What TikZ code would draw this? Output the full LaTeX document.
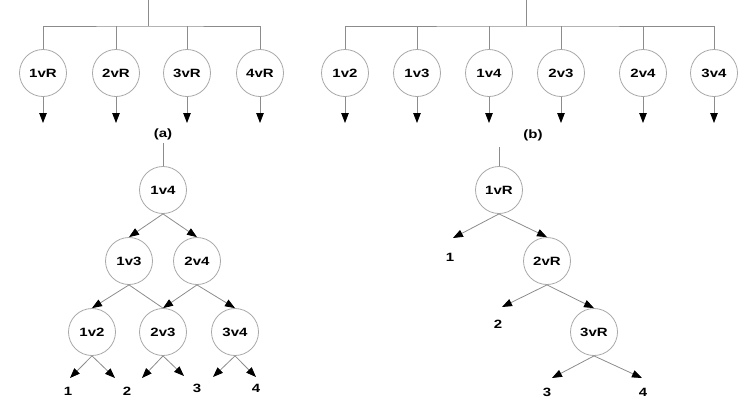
\documentclass[tikz,border=0pt]{standalone}
\usepackage{fontspec}
\setmainfont{Liberation Sans}
\usetikzlibrary{arrows.meta}
\newcommand\lbl[1]{\scalebox{1.25}[1]{#1}}
\definecolor{linec}{HTML}{8C8C8C}
\definecolor{circc}{HTML}{A8A8A8}
\tikzset{
  nd/.style={circle, draw=circc, line width=0.8pt, minimum size=47pt, inner sep=0pt, font=\bfseries\fontsize{12}{14}\selectfont},
  conn/.style={draw=linec, line width=0.8pt},
  arr/.style={conn, -{Triangle[length=10pt,width=7.5pt,color=black]}},
  leaf/.style={font=\bfseries\fontsize{12}{14}\selectfont, inner sep=0pt},
  captext/.style={font=\bfseries\fontsize{12}{14}\selectfont, inner sep=0pt}
}
\begin{document}
\begin{tikzpicture}[x=1pt,y=-1pt]
\useasboundingbox (0,0) rectangle (750,400);
% ---- panel (a) ----
\coordinate (ta) at (148,0);
\coordinate (ja) at (148,26);
\foreach \n/\x/\t in {1/43/1vR,2/116/2vR,3/187/3vR,4/260/4vR}{
  \node[nd] (a\n) at (\x,73) {\lbl{\t}};
  \coordinate (a\n e) at (\x,123);
  \draw[arr] (a\n.south) -- (a\n e);
}
\draw[conn] (ta) -- (ja);
\draw[conn] (a1.north) |- (ja) -| (a4.north);
\draw[conn] (a2.north) -- (a2.north |- ja);
\draw[conn] (a3.north) -- (a3.north |- ja);
\node[captext] (capa) at (163,134) {\lbl{(a)}};
% ---- panel (b) ----
\coordinate (tb) at (526,0);
\coordinate (jb) at (526,26);
\foreach \n/\x/\t in {1/345/1v2,2/417/1v3,3/489/1v4,4/561/2v3,5/643/2v4,6/714/3v4}{
  \node[nd] (b\n) at (\x,73) {\lbl{\t}};
  \coordinate (b\n e) at (\x,123);
  \draw[arr] (b\n.south) -- (b\n e);
}
\draw[conn] (tb) -- (jb);
\draw[conn] (b1.north) |- (jb) -| (b6.north);
\foreach \n in {2,3,4,5}{\draw[conn] (b\n.north) -- (b\n.north |- jb);}
\node[captext] (capb) at (533,135) {\lbl{(b)}};
% ---- lower-left tree ----
\coordinate (tl) at (163,143);
\node[nd] (t14) at (163,190) {\lbl{1v4}};
\node[nd] (t13) at (129,261) {\lbl{1v3}};
\node[nd] (t24) at (197,261) {\lbl{2v4}};
\node[nd] (t12) at (92,332) {\lbl{1v2}};
\node[nd] (t23) at (163,332) {\lbl{2v3}};
\node[nd] (t34) at (235,332) {\lbl{3v4}};
\draw[conn] (tl) -- (t14.north);
\draw[arr] (t14.south) -- (t13.north);
\draw[arr] (t14.south) -- (t24.north);
\draw[arr] (t13.south) -- (t12.north);
\draw[conn] (t13.south) -- (t23.north);
\draw[arr] (t24.south) -- (t23.north);
\draw[arr] (t24.south) -- (t34.north);
\coordinate (l1) at (70,378);
\coordinate (l2) at (115,378);
\coordinate (l3) at (142,378);
\coordinate (l4) at (184,376);
\coordinate (l5) at (213,377);
\coordinate (l6) at (256,377);
\draw[arr] (t12.south) -- (l1);
\draw[arr] (t12.south) -- (l2);
\draw[arr] (t23.south) -- (l3);
\draw[arr] (t23.south) -- (l4);
\draw[arr] (t34.south) -- (l5);
\draw[arr] (t34.south) -- (l6);
\node[leaf] (n1) at (68,391) {\lbl{1}};
\node[leaf] (n2) at (127,391) {\lbl{2}};
\node[leaf] (n3) at (197,388) {\lbl{3}};
\node[leaf] (n4) at (256,388) {\lbl{4}};
% ---- lower-right tree ----
\coordinate (tr) at (499,147);
\node[nd] (r1) at (499,190) {\lbl{1vR}};
\node[nd] (r2) at (547,261) {\lbl{2vR}};
\node[nd] (r3) at (594,332) {\lbl{3vR}};
\draw[conn] (tr) -- (r1.north);
\coordinate (q1) at (453,238);
\coordinate (q2) at (502,307);
\coordinate (q3) at (552,378);
\coordinate (q4) at (642,378);
\draw[arr] (r1.south) -- (q1);
\draw[arr] (r1.south) -- (r2.north);
\draw[arr] (r2.south) -- (q2);
\draw[arr] (r2.south) -- (r3.north);
\draw[arr] (r3.south) -- (q3);
\draw[arr] (r3.south) -- (q4);
\node[leaf] (m1) at (450,257) {\lbl{1}};
\node[leaf] (m2) at (498,324) {\lbl{2}};
\node[leaf] (m3) at (547,392) {\lbl{3}};
\node[leaf] (m4) at (643,392) {\lbl{4}};
\end{tikzpicture}
\end{document}
